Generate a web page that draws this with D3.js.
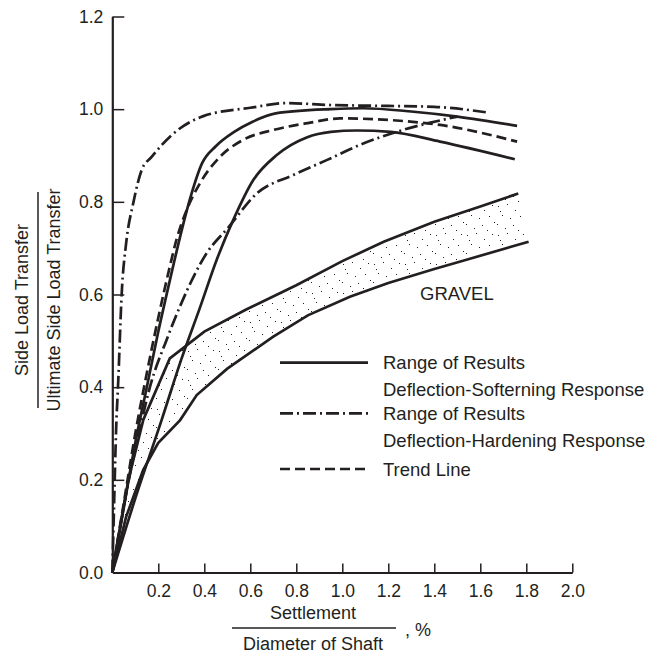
<!DOCTYPE html>
<html>
<head>
<meta charset="utf-8">
<script src="https://cdn.jsdelivr.net/npm/d3@7"></script>
<style>
  html, body { margin: 0; padding: 0; background: #fff; }
  svg text { font-family: "Liberation Sans", Arial, sans-serif; fill: #231f20; }
</style>
</head>
<body>
<svg id="chart" width="656" height="656"></svg>
<script>
// settlement / diameter (%) vs side load ratio
const xTicks = [0.2, 0.4, 0.6, 0.8, 1.0, 1.2, 1.4, 1.6, 1.8, 2.0]
const yTicks = [0, 0.2, 0.4, 0.6, 0.8, 1.0, 1.2]

// deflection-softening, upper bound (solid)
const softUpper = [[0,0],[0.05,0.14],[0.1,0.28],[0.15,0.4],[0.2,0.52],[0.25,0.63],[0.302,0.739],[0.34,0.81],[0.39,0.883],[0.45,0.92],[0.53,0.951],[0.61,0.973],[0.71,0.991],[0.95,1.0],[1.09,1.002],[1.3,0.995],[1.5,0.984],[1.76,0.964]]
// deflection-softening, lower bound (solid)
const softLower = [[0,0],[0.1,0.16],[0.215,0.33],[0.3,0.46],[0.38,0.57],[0.454,0.675],[0.526,0.761],[0.613,0.847],[0.715,0.901],[0.845,0.939],[0.95,0.951],[1.063,0.954],[1.21,0.951],[1.425,0.93],[1.75,0.892]]
// deflection-hardening, upper bound (dash-dot)
const hardUpper = [[0,0],[0.008,0.15],[0.016,0.3],[0.026,0.415],[0.041,0.603],[0.06,0.71],[0.091,0.797],[0.128,0.869],[0.171,0.897],[0.258,0.944],[0.396,0.985],[0.6,1.003],[0.758,1.013],[0.947,1.009],[1.2,1.007],[1.4,1.005],[1.628,0.993]]
// deflection-hardening, lower bound (dash-dot)
const hardLower = [[0,0],[0.06,0.17],[0.12,0.31],[0.164,0.401],[0.236,0.502],[0.294,0.574],[0.41,0.689],[0.505,0.745],[0.628,0.818],[0.787,0.858],[0.932,0.89],[1.077,0.923],[1.236,0.951],[1.5,0.984]]
// trend line (dashed)
const trend = [[0,0],[0.05,0.15],[0.1,0.3],[0.15,0.43],[0.2,0.55],[0.25,0.66],[0.28,0.72],[0.33,0.79],[0.381,0.84],[0.468,0.897],[0.57,0.934],[0.7,0.955],[0.85,0.97],[0.99,0.98],[1.25,0.975],[1.425,0.966],[1.76,0.93]]
// gravel band
const gravelTop = [[0,0],[0.07,0.2],[0.135,0.33],[0.25,0.462],[0.4,0.52],[0.58,0.567],[0.8,0.62],[1.0,0.672],[1.18,0.714],[1.4,0.757],[1.6,0.79],[1.765,0.818]]
const gravelBottom = [[0,0],[0.06,0.12],[0.134,0.221],[0.2,0.28],[0.295,0.329],[0.367,0.383],[0.5,0.44],[0.7,0.509],[0.85,0.555],[1.033,0.595],[1.2,0.625],[1.4,0.655],[1.54,0.675],[1.81,0.714]]

const legendItems = [
  {label: ["Range of Results", "Deflection-Softerning Response"], dash: null},
  {label: ["Range of Results", "Deflection-Hardening Response"], dash: "13,4,2,4"},
  {label: ["Trend Line"], dash: "10,5"}
]

const svg = d3.select("#chart")
const ink = "#231f20"

const x = d3.scaleLinear().domain([0, 2]).range([112.3, 572.3])
const y = d3.scaleLinear().domain([0, 1.2]).range([572.5, 16.5])

// stipple pattern for the gravel band (fixed dot layout)
const pat = svg.append("defs").append("pattern")
  .attr("id", "stipple").attr("patternUnits", "userSpaceOnUse")
  .attr("width", 31).attr("height", 29)
const dots = [[2,3],[11,1],[19,7],[27,2],[6,12],[14,15],[24,13],[1,21],[9,25],[17,22],[29,19],[22,27],[4,8]]
dots.forEach(d => pat.append("rect").attr("x", d[0]).attr("y", d[1]).attr("width", 1).attr("height", 1).attr("fill", ink))

const band = gravelTop.concat(gravelBottom.slice().reverse())
svg.append("path")
  .attr("d", d3.line().x(d => x(d[0])).y(d => y(d[1]))(band))
  .attr("fill", "url(#stipple)")

const line = d3.line().x(d => x(d[0])).y(d => y(d[1])).curve(d3.curveMonotoneX)
const curves = [
  {data: gravelTop, dash: null, lin: true},
  {data: gravelBottom, dash: null, lin: true},
  {data: softLower, dash: null},
  {data: softUpper, dash: null},
  {data: hardLower, dash: "13,4,2,4"},
  {data: hardUpper, dash: "13,4,2,4"},
  {data: trend, dash: "10,5"}
]
curves.forEach(c => {
  const gen = c.lin ? d3.line().x(d => x(d[0])).y(d => y(d[1])) : line
  svg.append("path")
    .attr("d", gen(c.data))
    .attr("fill", "none")
    .attr("stroke", ink)
    .attr("stroke-width", 2.7)
    .attr("stroke-dasharray", c.dash)
})

// axes
const xAxis = svg.append("g").attr("transform", `translate(0,${y(0)})`)
  .call(d3.axisBottom(x).tickValues(xTicks).tickSize(-9).tickSizeOuter(0).tickPadding(12).tickFormat(d3.format(".1f")))
const yAxis = svg.append("g").attr("transform", `translate(${x(0)},0)`)
  .call(d3.axisLeft(y).tickValues(yTicks).tickSize(-12).tickSizeOuter(0).tickPadding(9).tickFormat(d3.format(".1f")))
;[xAxis, yAxis].forEach(a => {
  a.selectAll("path").attr("stroke", ink).attr("stroke-width", 2.2)
  a.selectAll("line").attr("stroke", ink).attr("stroke-width", 1.5)
  a.selectAll("text").attr("font-size", 17.5).attr("fill", ink)
})
yAxis.selectAll(".tick").filter(d => d === 0).select("line").remove()

// axis titles
svg.append("text").attr("x", 313).attr("y", 619).attr("text-anchor", "middle").attr("font-size", 18).text("Settlement")
svg.append("line").attr("x1", 232).attr("x2", 396).attr("y1", 628).attr("y2", 628).attr("stroke", ink).attr("stroke-width", 1.5)
svg.append("text").attr("x", 313).attr("y", 650).attr("text-anchor", "middle").attr("font-size", 18).text("Diameter of Shaft")
svg.append("text").attr("x", 405).attr("y", 636).attr("font-size", 18).text(", %")

const yt = svg.append("g").attr("transform", "translate(0,300) rotate(-90)")
yt.append("text").attr("x", 0).attr("y", 28).attr("text-anchor", "middle").attr("font-size", 18).text("Side Load Transfer")
yt.append("line").attr("x1", -108).attr("x2", 108).attr("y1", 38).attr("y2", 38).attr("stroke", ink).attr("stroke-width", 1.5)
yt.append("text").attr("x", 0).attr("y", 60).attr("text-anchor", "middle").attr("font-size", 18).text("Ultimate Side Load Transfer")

svg.append("text").attr("x", 420).attr("y", 300).attr("font-size", 18.5).text("GRAVEL")

// legend
const legendRows = [362.7, 413.3, 469]
legendItems.forEach((it, i) => {
  const ly = legendRows[i]
  svg.append("line").attr("x1", 280).attr("x2", 368).attr("y1", ly).attr("y2", ly)
    .attr("stroke", ink).attr("stroke-width", 2.7).attr("stroke-dasharray", it.dash)
  it.label.forEach((t, j) => {
    svg.append("text").attr("x", 383).attr("y", ly + 6.5 + j * 27).attr("font-size", 18.5).text(t)
  })
})
</script>
</body>
</html>
